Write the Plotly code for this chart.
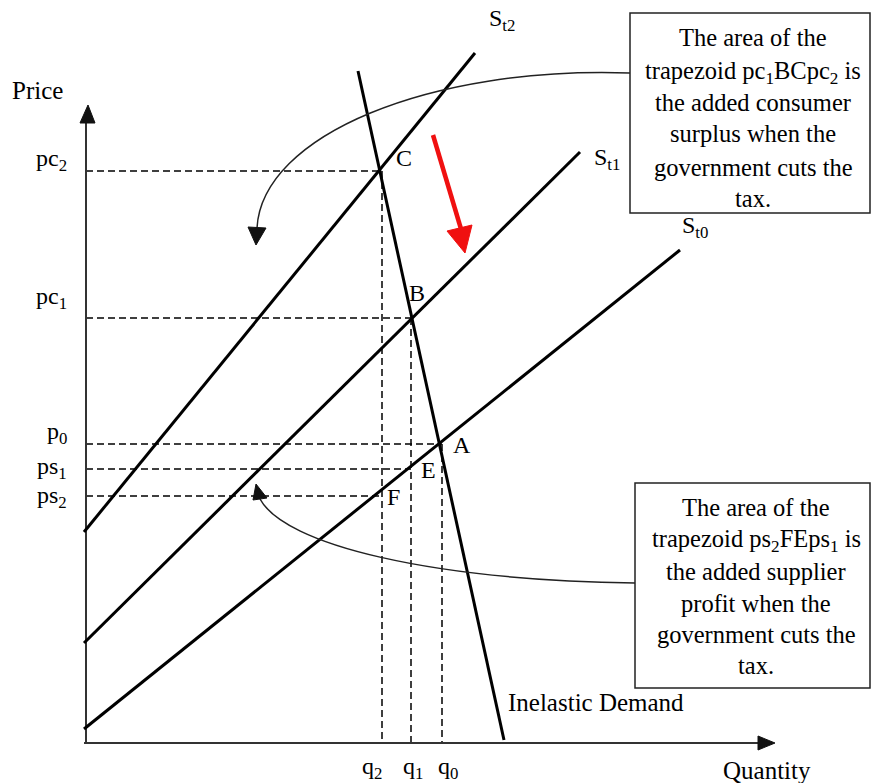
import plotly.graph_objects as go

# diagram units: quantity to the right, price upward, origin where the axes meet
supply_names = ["S<sub>t2</sub>", "S<sub>t1</sub>", "S<sub>t0</sub>"]
supply_q = [[-2, 389], [-2, 494], [-2, 594]]
supply_p = [[211, 690], [100, 591], [14, 493]]
supply_label_q = [416, 521, 609]
supply_label_p = [723, 584, 516]

demand_q = [272, 418]
demand_p = [672, 3]

point_names = ["C", "B", "A", "E", "F"]
point_q = [296, 325, 356, 325, 296]
point_p = [572, 425, 299, 274, 247]
point_label_q = [318, 331, 376, 342, 307]
point_label_p = [585, 450, 298, 273, 246]

price_labels = ["pc<sub>2</sub>", "pc<sub>1</sub>", "p<sub>0</sub>", "ps<sub>1</sub>", "ps<sub>2</sub>"]
price_values = [572, 425, 299, 274, 247]
price_label_p = [583, 445, 310, 275, 246]

qty_labels = ["q<sub>2</sub>", "q<sub>1</sub>", "q<sub>0</sub>"]
qty_values = [296, 325, 356]
qty_label_q = [286, 327, 362]

box1_lines = ["The area of the", "trapezoid pc<sub>1</sub>BCpc<sub>2</sub> is",
              "the added consumer", "surplus when the",
              "government cuts the", "tax."]
box1_line_p = [706, 671, 641, 610, 576, 545]
box2_lines = ["The area of the", "trapezoid ps<sub>2</sub>FEps<sub>1</sub> is",
              "the added supplier", "profit when the",
              "government cuts the", "tax."]
box2_line_p = [236, 203, 172, 140, 109, 78]

SERIF = "Liberation Serif, Times New Roman, serif"
fig = go.Figure()


def seg(q, p, width=3, color="black", dash=None):
    fig.add_trace(go.Scatter(x=q, y=p, mode="lines", hoverinfo="skip",
                             line=dict(color=color, width=width, dash=dash),
                             showlegend=False))


def label(text, q, p, size=24, xanchor="center"):
    fig.add_annotation(x=q, y=p, text=text, showarrow=False, xanchor=xanchor,
                       yanchor="middle", font=dict(family=SERIF, size=size, color="black"))


def tri(pts, color="black"):
    path = "M {},{} L {},{} L {},{} Z".format(*[v for pt in pts for v in pt])
    fig.add_shape(type="path", path=path, fillcolor=color, line=dict(color=color, width=1),
                  xref="x", yref="y")


# dashed guide lines
for pv, qv in zip(price_values, point_q):
    seg([0, qv], [pv, pv], width=1.5, dash="7px,4px")
for qv, pv in zip(qty_values, [572, 425, 299]):
    seg([qv, qv], [pv, 0], width=1.5, dash="7px,4px")

# axes
seg([0, 0], [0, 625], width=2, color="#333")
seg([-2, 676], [0, 0], width=2, color="#333")
tri([(2, 638), (-6, 620), (9, 620)], "#111")
tri([(689, 0), (672, 7), (672, -7)], "#111")

# supply and demand curves
for q, p in zip(supply_q, supply_p):
    seg(q, p, width=3)
seg(demand_q, demand_p, width=3)

# curved pointers from the text boxes
fig.add_shape(type="path", path="M 544,670 C 344,677 176,608 171,515",
              line=dict(color="#222", width=1.5), xref="x", yref="y")
tri([(170, 498), (162, 516), (180, 515)], "#111")
fig.add_shape(type="path", path="M 549,160 C 344,163 199,198 174,244",
              line=dict(color="#222", width=1.5), xref="x", yref="y")
tri([(170, 259), (167, 243), (181, 245)], "#111")

# red shift arrow
seg([347, 375], [608, 514], width=4.5, color="#f01010")
tri([(379, 490), (361, 512), (386, 518)], "#f01010")

# text boxes
fig.add_shape(type="rect", x0=544, x1=784, y0=530, y1=730, fillcolor="white",
              line=dict(color="#222", width=1.5), xref="x", yref="y")
fig.add_shape(type="rect", x0=549, x1=784, y0=55, y1=260, fillcolor="white",
              line=dict(color="#222", width=1.5), xref="x", yref="y")
for t, p in zip(box1_lines, box1_line_p):
    label(t, 667, p, size=24.5)
for t, p in zip(box2_lines, box2_line_p):
    label(t, 670, p, size=24.5)

# labels
for t, q, p in zip(supply_names, supply_label_q, supply_label_p):
    label(t, q, p)
for t, q, p in zip(point_names, point_label_q, point_label_p):
    label(t, q, p)
for t, p in zip(price_labels, price_label_p):
    label(t, -17, p, xanchor="right")
for t, q in zip(qty_labels, qty_label_q):
    label(t, q, -25)
label("Price", -49, 653, size=25)
label("Quantity", 681, -27, size=25)
label("Inelastic Demand", 420, 41, size=25, xanchor="left")

fig.update_layout(
    width=872, height=783,
    margin=dict(l=0, r=0, t=0, b=0),
    plot_bgcolor="white", paper_bgcolor="white",
    xaxis=dict(range=[-86, 786], visible=False, fixedrange=True),
    yaxis=dict(range=[-40, 743], visible=False, fixedrange=True),
    showlegend=False,
)

fig.write_html("out.html", config={"displayModeBar": False},
               post_script="document.body.style.margin='0';")
